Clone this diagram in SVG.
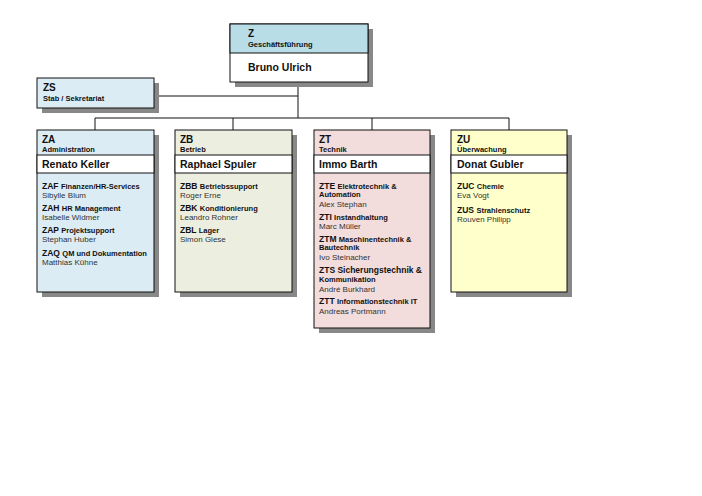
<svg xmlns="http://www.w3.org/2000/svg" width="702" height="496" viewBox="0 0 702 496">
<style>
text{font-family:"Liberation Sans",Arial,sans-serif;fill:#111}
.c{font-weight:bold;font-size:10px}
.s{font-weight:bold;font-size:7.5px}
.n{font-weight:bold;font-size:10.5px}
.p{font-size:8px;fill:#333}
.k{font-weight:bold;font-size:8.5px}
.sh{fill:#888}
.b{stroke:#111;stroke-width:1}
line{stroke:#111;stroke-width:1}
</style>
<rect width="702" height="496" fill="#fff"/>
<g id="connectors">
<line x1="154" y1="96" x2="298" y2="96"/>
<line x1="298" y1="82" x2="298" y2="118"/>
<line x1="95" y1="118" x2="509" y2="118"/>
<line x1="95" y1="118" x2="95" y2="130"/>
<line x1="233" y1="118" x2="233" y2="130"/>
<line x1="372" y1="118" x2="372" y2="130"/>
<line x1="509" y1="118" x2="509" y2="130"/>
</g>
<g id="Z">
<rect class="sh" x="235" y="29" width="138" height="58"/>
<rect class="b" x="230" y="24" width="138" height="58" fill="#fff"/>
<rect class="b" x="230" y="24" width="138" height="29" fill="#b8dde6"/>
<text class="c" x="248" y="37">Z</text>
<text class="s" x="248" y="47">Geschäftsführung</text>
<text class="n" x="248" y="71">Bruno Ulrich</text>
</g>
<g id="ZS">
<rect class="sh" x="42" y="83" width="117" height="30"/>
<rect class="b" x="37" y="78" width="117" height="30" fill="#dcecf4"/>
<text class="c" x="43" y="91">ZS</text>
<text class="s" x="43" y="101">Stab / Sekretariat</text>
</g>
<g id="ZA">
<rect class="sh" x="42" y="135" width="117" height="162"/>
<rect class="b" x="37" y="130" width="117" height="162" fill="#dcecf4"/>
<rect class="b" x="37" y="155" width="117" height="18" fill="#fff"/>
<text class="c" x="42" y="143">ZA</text>
<text class="s" x="42" y="152">Administration</text>
<text class="n" x="42" y="168">Renato Keller</text>
<text class="k" x="42" y="189">ZAF <tspan class="s">Finanzen/HR-Services</tspan></text>
<text class="p" x="42" y="198">Sibylle Blum</text>
<text class="k" x="42" y="211">ZAH <tspan class="s">HR Management</tspan></text>
<text class="p" x="42" y="220">Isabelle Widmer</text>
<text class="k" x="42" y="233">ZAP <tspan class="s">Projektsupport</tspan></text>
<text class="p" x="42" y="242">Stephan Huber</text>
<text class="k" x="42" y="256">ZAQ <tspan class="s">QM und Dokumentation</tspan></text>
<text class="p" x="42" y="265">Matthias Kühne</text>
</g>
<g id="ZB">
<rect class="sh" x="180" y="135" width="117" height="162"/>
<rect class="b" x="175" y="130" width="117" height="162" fill="#ecefe0"/>
<rect class="b" x="175" y="155" width="117" height="18" fill="#fff"/>
<text class="c" x="180" y="143">ZB</text>
<text class="s" x="180" y="152">Betrieb</text>
<text class="n" x="180" y="168">Raphael Spuler</text>
<text class="k" x="180" y="189">ZBB <tspan class="s">Betriebssupport</tspan></text>
<text class="p" x="180" y="198">Roger Erne</text>
<text class="k" x="180" y="211">ZBK <tspan class="s">Konditionierung</tspan></text>
<text class="p" x="180" y="220">Leandro Rohner</text>
<text class="k" x="180" y="233">ZBL <tspan class="s">Lager</tspan></text>
<text class="p" x="180" y="242">Simon Giese</text>
</g>
<g id="ZT">
<rect class="sh" x="319" y="135" width="116" height="198"/>
<rect class="b" x="314" y="130" width="116" height="198" fill="#f2dcdc"/>
<rect class="b" x="314" y="155" width="116" height="18" fill="#fff"/>
<text class="c" x="319" y="143">ZT</text>
<text class="s" x="319" y="152">Technik</text>
<text class="n" x="319" y="168">Immo Barth</text>
<text class="k" x="319" y="189">ZTE <tspan class="s">Elektrotechnik &amp;</tspan></text>
<text class="s" x="319" y="197">Automation</text>
<text class="p" x="319" y="207">Alex Stephan</text>
<text class="k" x="319" y="220">ZTI <tspan class="s">Instandhaltung</tspan></text>
<text class="p" x="319" y="229">Marc Müller</text>
<text class="k" x="319" y="242">ZTM <tspan class="s">Maschinentechnik &amp;</tspan></text>
<text class="s" x="319" y="250">Bautechnik</text>
<text class="p" x="319" y="260">Ivo Steinacher</text>
<text class="k" x="319" y="273">ZTS <tspan>Sicherungstechnik &amp;</tspan></text>
<text class="s" x="319" y="282">Kommunikation</text>
<text class="p" x="319" y="292">André Burkhard</text>
<text class="k" x="319" y="304">ZTT <tspan class="s">Informationstechnik IT</tspan></text>
<text class="p" x="319" y="314">Andreas Portmann</text>
</g>
<g id="ZU">
<rect class="sh" x="456" y="135" width="116" height="162"/>
<rect class="b" x="451" y="130" width="116" height="162" fill="#ffffcc"/>
<rect class="b" x="451" y="155" width="116" height="18" fill="#fff"/>
<text class="c" x="457" y="143">ZU</text>
<text class="s" x="457" y="152">Überwachung</text>
<text class="n" x="457" y="168">Donat Gubler</text>
<text class="k" x="457" y="189">ZUC <tspan class="s">Chemie</tspan></text>
<text class="p" x="457" y="198">Eva Vogt</text>
<text class="k" x="457" y="213">ZUS <tspan class="s">Strahlenschutz</tspan></text>
<text class="p" x="457" y="222">Rouven Philipp</text>
</g>
</svg>
